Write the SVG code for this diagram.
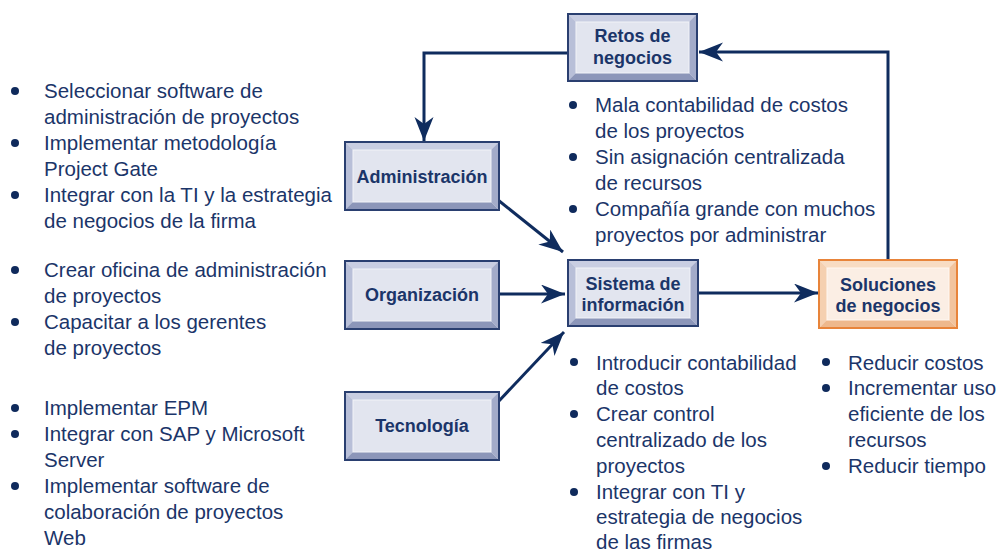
<svg xmlns="http://www.w3.org/2000/svg" width="1006" height="551" viewBox="0 0 1006 551">
<style>
.t{font-family:"Liberation Sans",Arial,sans-serif;font-size:20.5px;fill:#1b3569}
.b{font-family:"Liberation Sans",Arial,sans-serif;font-size:18px;font-weight:bold;fill:#1b3569;text-anchor:middle}
.bul{fill:#0f2a5c}
.frame{fill:#e2e5ef;stroke:#2a3f70;stroke-width:2}
.bt{fill:#c9cee2}.bl{fill:#b8bfd8}.bb{fill:#8c96b9}.br{fill:#a3abc9}
.face{fill:#e2e5ef;stroke:#f2f3f8;stroke-width:1}
.oframe{fill:#fbeee4;stroke:#e8843a;stroke-width:2}
.obt{fill:#f8dcc3}.obl{fill:#f5d0b0}.obb{fill:#eeb88c}.obr{fill:#f2c49e}
.oface{fill:#fbeee4;stroke:#fff8f2;stroke-width:1}
.c{fill:none;stroke:#0f2c5e;stroke-width:3;marker-end:url(#ah)}
</style>
<defs>
<marker id="ah" markerUnits="userSpaceOnUse" markerWidth="26" markerHeight="20" refX="24" refY="9.5" orient="auto">
<path d="M0,0 L24,9.5 L0,19 L7,9.5 Z" fill="#0f2c5e"/>
</marker>
</defs>
<rect width="1006" height="551" fill="#ffffff"/>

<g id="connectors">
<path class="c" d="M568,53 H424 V141"/>
<path class="c" d="M888,260 V52 H699"/>
<path class="c" d="M498,200 L563,252"/>
<path class="c" d="M499,294 L565,294"/>
<path class="c" d="M498,402 L564,332"/>
<path class="c" d="M698,293 L818,293"/>
</g>

<g id="retos">
<rect class="frame" x="568" y="14" width="129" height="67"/>
<polygon class="bt" points="569,15 696,15 689,22 576,22"/>
<polygon class="bl" points="569,15 576,22 576,73 569,80"/>
<polygon class="bb" points="569,80 576,73 689,73 696,80"/>
<polygon class="br" points="696,15 696,80 689,73 689,22"/>
<rect class="face" x="576" y="22" width="113" height="51"/>
<text class="b" x="632.5" y="42">Retos de</text>
<text class="b" x="632.5" y="64">negocios</text>
</g>

<g id="administracion">
<rect class="frame" x="345" y="142" width="154" height="68"/>
<polygon class="bt" points="346,143 498,143 491,150 353,150"/>
<polygon class="bl" points="346,143 353,150 353,202 346,209"/>
<polygon class="bb" points="346,209 353,202 491,202 498,209"/>
<polygon class="br" points="498,143 498,209 491,202 491,150"/>
<rect class="face" x="353" y="150" width="138" height="52"/>
<text class="b" x="422" y="183">Administración</text>
</g>

<g id="organizacion">
<rect class="frame" x="345" y="261" width="154" height="68"/>
<polygon class="bt" points="346,262 498,262 491,269 353,269"/>
<polygon class="bl" points="346,262 353,269 353,321 346,328"/>
<polygon class="bb" points="346,328 353,321 491,321 498,328"/>
<polygon class="br" points="498,262 498,328 491,321 491,269"/>
<rect class="face" x="353" y="269" width="138" height="52"/>
<text class="b" x="422" y="301">Organización</text>
</g>

<g id="tecnologia">
<rect class="frame" x="345" y="392" width="154" height="68"/>
<polygon class="bt" points="346,393 498,393 491,400 353,400"/>
<polygon class="bl" points="346,393 353,400 353,452 346,459"/>
<polygon class="bb" points="346,459 353,452 491,452 498,459"/>
<polygon class="br" points="498,393 498,459 491,452 491,400"/>
<rect class="face" x="353" y="400" width="138" height="52"/>
<text class="b" x="422" y="432">Tecnología</text>
</g>

<g id="sistema">
<rect class="frame" x="568" y="260" width="130" height="66"/>
<polygon class="bt" points="569,261 697,261 690,268 576,268"/>
<polygon class="bl" points="569,261 576,268 576,318 569,325"/>
<polygon class="bb" points="569,325 576,318 690,318 697,325"/>
<polygon class="br" points="697,261 697,325 690,318 690,268"/>
<rect class="face" x="576" y="268" width="114" height="50"/>
<text class="b" x="633" y="290">Sistema de</text>
<text class="b" x="633" y="311">información</text>
</g>

<g id="soluciones">
<rect class="oframe" x="819" y="260" width="138" height="68"/>
<polygon class="obt" points="820,261 956,261 949,268 827,268"/>
<polygon class="obl" points="820,261 827,268 827,320 820,327"/>
<polygon class="obb" points="820,327 827,320 949,320 956,327"/>
<polygon class="obr" points="956,261 956,327 949,320 949,268"/>
<rect class="oface" x="827" y="268" width="122" height="52"/>
<text class="b" x="888" y="291">Soluciones</text>
<text class="b" x="888" y="312">de negocios</text>
</g>

<g id="list-administracion">
<circle class="bul" cx="15" cy="91" r="4"/>
<circle class="bul" cx="15" cy="143" r="4"/>
<circle class="bul" cx="15" cy="195" r="4"/>
<text class="t" x="44" y="98">Seleccionar software de</text>
<text class="t" x="44" y="124">administración de proyectos</text>
<text class="t" x="44" y="150">Implementar metodología</text>
<text class="t" x="44" y="176">Project Gate</text>
<text class="t" x="44" y="202">Integrar con la TI y la estrategia</text>
<text class="t" x="44" y="228">de negocios de la firma</text>
</g>

<g id="list-organizacion">
<circle class="bul" cx="15" cy="270" r="4"/>
<circle class="bul" cx="15" cy="322" r="4"/>
<text class="t" x="44" y="277">Crear oficina de administración</text>
<text class="t" x="44" y="303">de proyectos</text>
<text class="t" x="44" y="329">Capacitar a los gerentes</text>
<text class="t" x="44" y="355">de proyectos</text>
</g>

<g id="list-tecnologia">
<circle class="bul" cx="15" cy="408" r="4"/>
<circle class="bul" cx="15" cy="434" r="4"/>
<circle class="bul" cx="15" cy="486" r="4"/>
<text class="t" x="44" y="415">Implementar EPM</text>
<text class="t" x="44" y="441">Integrar con SAP y Microsoft</text>
<text class="t" x="44" y="467">Server</text>
<text class="t" x="44" y="493">Implementar software de</text>
<text class="t" x="44" y="519">colaboración de proyectos</text>
<text class="t" x="44" y="545">Web</text>
</g>

<g id="list-retos">
<circle class="bul" cx="573" cy="105" r="4"/>
<circle class="bul" cx="573" cy="157" r="4"/>
<circle class="bul" cx="573" cy="209" r="4"/>
<text class="t" x="595" y="112">Mala contabilidad de costos</text>
<text class="t" x="595" y="138">de los proyectos</text>
<text class="t" x="595" y="164">Sin asignación centralizada</text>
<text class="t" x="595" y="190">de recursos</text>
<text class="t" x="595" y="216">Compañía grande con muchos</text>
<text class="t" x="595" y="242">proyectos por administrar</text>
</g>

<g id="list-sistema">
<circle class="bul" cx="574" cy="362" r="4"/>
<circle class="bul" cx="574" cy="414" r="4"/>
<circle class="bul" cx="574" cy="492" r="4"/>
<text class="t" x="596" y="370">Introducir contabilidad</text>
<text class="t" x="596" y="395">de costos</text>
<text class="t" x="596" y="421">Crear control</text>
<text class="t" x="596" y="447">centralizado de los</text>
<text class="t" x="596" y="473">proyectos</text>
<text class="t" x="596" y="499">Integrar con TI y</text>
<text class="t" x="596" y="524">estrategia de negocios</text>
<text class="t" x="596" y="549">de las firmas</text>
</g>

<g id="list-soluciones">
<circle class="bul" cx="826" cy="362" r="4"/>
<circle class="bul" cx="826" cy="388" r="4"/>
<circle class="bul" cx="826" cy="466" r="4"/>
<text class="t" x="848" y="370">Reducir costos</text>
<text class="t" x="848" y="395">Incrementar uso</text>
<text class="t" x="848" y="421">eficiente de los</text>
<text class="t" x="848" y="447">recursos</text>
<text class="t" x="848" y="473">Reducir tiempo</text>
</g>
</svg>
